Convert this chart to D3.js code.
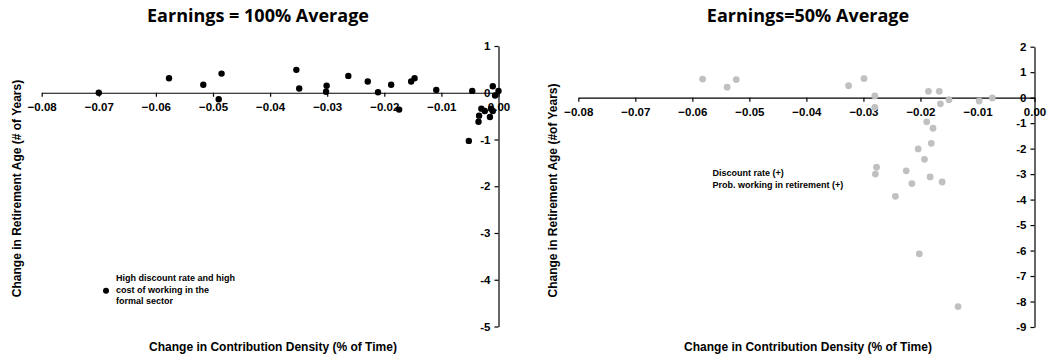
<!DOCTYPE html>
<html>
<head>
<meta charset="utf-8">
<script src="https://cdn.jsdelivr.net/npm/d3@7"></script>
<style>
  body { margin: 0; background: #fff; }
  svg text { font-family: "Liberation Sans", Arial, sans-serif; font-weight: bold; }
  svg text.title { font-family: "Open Sans", "Lato", sans-serif; }
</style>
</head>
<body>
<div id="chart"></div>
<script>
// data
const xTicks = [-0.08, -0.07, -0.06, -0.05, -0.04, -0.03, -0.02, -0.01, 0];

// left panel: earnings = 100% average
const leftX = [-0.070, -0.0577, -0.0517, -0.0485, -0.049, -0.0354, -0.0349, -0.0301, -0.0302, -0.0263,
  -0.0229, -0.0211, -0.0188, -0.0174, -0.0153, -0.0147, -0.0109, -0.0046, -0.001, 0.0,
  -0.0006, -0.003, -0.0024, -0.0034, -0.0035, -0.0013, -0.001, -0.0015, -0.0052];
const leftY = [0.0, 0.31, 0.17, 0.41, -0.14, 0.49, 0.09, 0.15, 0.02, 0.36,
  0.24, 0.01, 0.17, -0.36, 0.24, 0.31, 0.06, 0.04, 0.14, 0.04,
  -0.06, -0.34, -0.39, -0.49, -0.62, -0.34, -0.39, -0.52, -1.03];
const leftYTicks = [1, 0, -1, -2, -3, -4, -5];

// right panel: earnings = 50% average
const rightX = [-0.0582, -0.0539, -0.0523, -0.0326, -0.0299, -0.028, -0.028, -0.0186, -0.0167, -0.015,
  -0.0165, -0.0097, -0.0074, -0.0189, -0.0178, -0.0181, -0.0204, -0.0193, -0.0277, -0.0225,
  -0.0279, -0.0183, -0.0215, -0.0162, -0.0244, -0.0202, -0.0134];
const rightY = [0.73, 0.41, 0.71, 0.47, 0.75, 0.07, -0.38, 0.25, 0.25, -0.08,
  -0.24, -0.13, -0.01, -0.95, -1.2, -1.79, -2.01, -2.42, -2.73, -2.87,
  -3.0, -3.11, -3.37, -3.31, -3.87, -6.13, -8.2];
const rightYTicks = [2, 1, 0, -1, -2, -3, -4, -5, -6, -7, -8, -9];

const svg = d3.select("#chart").append("svg")
  .attr("width", 1050)
  .attr("height", 360);

// one panel
function panel(opt) {
  const g = svg.append("g");
  const x = d3.scaleLinear().domain([-0.08, 0]).range([opt.x0, opt.x1]);
  const y = d3.scaleLinear().domain(opt.yDomain).range([opt.y1, opt.y0]);

  const xAxis = g.append("g")
    .attr("transform", `translate(0,${y(0)})`)
    .call(d3.axisBottom(x).tickValues(xTicks).tickFormat(d3.format(".2f")).tickSize(4).tickSizeOuter(0).tickPadding(6));
  const yAxis = g.append("g")
    .attr("transform", `translate(${x(0)},0)`)
    .call(d3.axisLeft(y).tickValues(opt.yTicks).tickFormat(d => d).tickSize(4).tickSizeOuter(0).tickPadding(4));

  [xAxis, yAxis].forEach(a => {
    a.select(".domain").attr("stroke", "#000").attr("stroke-width", 1.2);
    a.selectAll(".tick line").attr("stroke", "#000").attr("stroke-width", 1.2);
    a.selectAll(".tick text").attr("fill", "#000").style("font-size", "11.5px");
  });
  xAxis.selectAll(".tick text").filter(d => d === 0).text("0.00");

  g.selectAll(".dot")
    .data(opt.xs.map((d, i) => [d, opt.ys[i]]))
    .join("circle")
    .attr("cx", d => x(d[0]))
    .attr("cy", d => y(d[1]))
    .attr("r", opt.r)
    .attr("fill", opt.color);

  // titles and axis labels
  g.append("text").attr("class", "title")
    .attr("x", opt.titleX).attr("y", 22)
    .attr("text-anchor", "middle")
    .style("font-size", "18px")
    .text(opt.title);
  g.append("text")
    .attr("x", opt.labX).attr("y", 351)
    .attr("text-anchor", "middle")
    .style("font-size", "12px")
    .text("Change in Contribution Density (% of Time)");
  g.append("text")
    .attr("transform", `translate(${opt.yLabX},${opt.yLabY}) rotate(-90)`)
    .attr("text-anchor", "middle")
    .style("font-size", "12px")
    .text(opt.yLabel);
  return { g, x, y };
}

const L = panel({
  x0: 41.7, x1: 498.5, y0: 46, y1: 326.5, yDomain: [-5, 1], yTicks: leftYTicks,
  xs: leftX, ys: leftY, r: 3.2, color: "#000",
  title: "Earnings = 100% Average", titleX: 258, labX: 273,
  yLabel: "Change in Retirement Age (# of Years)", yLabX: 21, yLabY: 188.5
});

const R = panel({
  x0: 578.3, x1: 1034.5, y0: 46.7, y1: 327, yDomain: [-9, 2], yTicks: rightYTicks,
  xs: rightX, ys: rightY, r: 3.4, color: "#c0c0c0",
  title: "Earnings=50% Average", titleX: 808, labX: 808,
  yLabel: "Change in Retirement Age (#of Years)", yLabX: 557, yLabY: 190.5
});

// left legend
L.g.append("circle").attr("cx", 106).attr("cy", 290.7).attr("r", 3).attr("fill", "#000");
["High discount rate and high", "cost of working in the", "formal sector"].forEach((t, i) => {
  L.g.append("text").attr("x", 116).attr("y", 281 + i * 11.5).style("font-size", "9px").text(t);
});

// right legend
["Discount rate (+)", "Prob. working in retirement (+)"].forEach((t, i) => {
  R.g.append("text").attr("x", 712.5).attr("y", 176 + i * 11.5).style("font-size", "9px").text(t);
});
</script>
</body>
</html>
